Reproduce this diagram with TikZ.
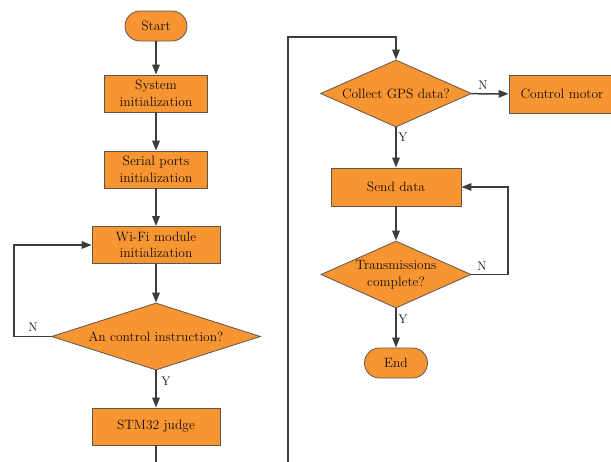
\documentclass[tikz,border=0pt]{standalone}
\usepackage{fontspec}
\usetikzlibrary{shapes.geometric,arrows.meta}
\definecolor{boxfill}{RGB}{247,149,50}
\definecolor{boxline}{RGB}{95,85,75}
\definecolor{wire}{RGB}{60,60,60}
\definecolor{ink}{RGB}{20,14,8}
\tikzset{
  base/.style={fill=boxfill, draw=boxline, line width=0.8pt, text=ink,
    font=\rmfamily\fontsize{13.5}{16.5}\selectfont, align=center, inner sep=0pt},
  procbox/.style={base, rectangle, minimum height=37pt},
  termbox/.style={base, rectangle, rounded corners=15pt, minimum height=30pt},
  decbox/.style={base, diamond, minimum height=67pt},
  conn/.style={draw=wire, line width=1.5pt},
  arr/.style={conn, -{Triangle[length=10pt,width=7.5pt]}},
  yn/.style={text=ink, font=\rmfamily\fontsize{12.5}{13}\selectfont, inner sep=0pt}
}
\begin{document}
\begin{tikzpicture}[x=1pt,y=-1pt]
\useasboundingbox (0,0) rectangle (611,461);

% left column
\node[termbox, minimum width=62pt] (start) at (156,26) {Start};
\node[procbox, minimum width=103pt] (sys) at (156,93.5) {System\\initialization};
\node[procbox, minimum width=103pt] (ser) at (156,169.5) {Serial ports\\initialization};
\node[procbox, minimum width=128pt] (wifi) at (156,245) {Wi-Fi module\\initialization};
\node[decbox, minimum width=209pt, aspect=3.1] (ctrl) at (156,336.5) {An control instruction?};
\node[procbox, minimum width=128pt] (stm) at (156,426.5) {STM32 judge};

% right column
\node[decbox, minimum width=151pt, aspect=2.25] (gps) at (396,93.5) {Collect GPS data?};
\node[procbox, minimum width=106pt, minimum height=38pt] (motor) at (562,94) {Control motor};
\node[procbox, minimum width=130pt, minimum height=38pt] (send) at (396,187) {Send data};
\node[decbox, minimum width=150pt, aspect=2.24] (trans) at (396,274.5) {Transmissions\\complete?};
\node[termbox, minimum width=63pt] (end) at (396,363) {End};

% free ends and bends
\coordinate (stmout) at (156,463);
\coordinate (busbot) at (288,463);
\coordinate (bustop) at (288,37);
\coordinate (loopL) at (14,290);
\coordinate (loopR) at (508,230);

% main flow
\draw[arr] (start) -- (sys);
\draw[arr] (sys) -- (ser);
\draw[arr] (ser) -- (wifi);
\draw[arr] (wifi) -- (ctrl);
\draw[arr] (ctrl.west) -| (loopL) |- (wifi.west);
\draw[arr] (ctrl) -- (stm);
\draw[conn] (stm) -- (stmout);
\draw[arr] (busbot) -- (bustop) -| (gps.north);
\draw[arr] (gps) -- (motor);
\draw[arr] (gps) -- (send);
\draw[arr] (send) -- (trans);
\draw[arr] (trans.east) -| (loopR) |- (send.east);
\draw[arr] (trans) -- (end);

% branch labels
\node[yn] (n1) at (33,327) {N};
\node[yn] (y1) at (166,381) {Y};
\node[yn] (n2) at (483,85) {N};
\node[yn] (y2) at (403,137) {Y};
\node[yn] (n3) at (482,266) {N};
\node[yn] (y3) at (403,319) {Y};
\end{tikzpicture}
\end{document}
